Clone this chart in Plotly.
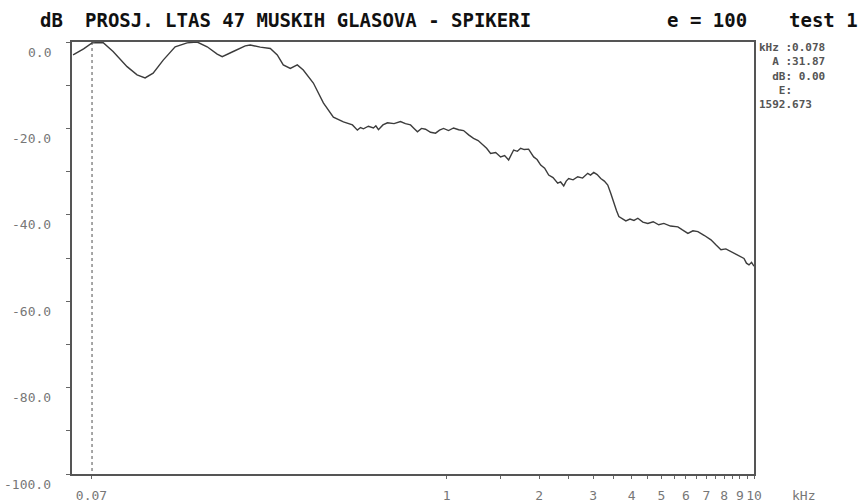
import plotly.graph_objects as go

# ---- data (frequency in kHz, level in dB) ----
freq_khz = [
    0.0610, 0.0660, 0.0703, 0.0763, 0.0823, 0.0914, 0.0985, 0.1046, 0.1111, 0.1198,
    0.1310, 0.1433, 0.1545, 0.1665, 0.1795, 0.1864, 0.2024, 0.2215, 0.2299, 0.2478,
    0.2672, 0.2815, 0.2944, 0.3104, 0.3270, 0.3420, 0.3688, 0.3975, 0.4285, 0.4619,
    0.4943, 0.5129, 0.525, 0.5366, 0.557, 0.5784, 0.589, 0.6005, 0.621, 0.6424,
    0.675, 0.7082, 0.735, 0.7636, 0.784, 0.8043, 0.829, 0.8543, 0.887, 0.9209,
    0.949, 0.9778, 1.015, 1.054, 1.095, 1.136, 1.18, 1.224, 1.267, 1.310,
    1.35, 1.391, 1.445, 1.499, 1.545, 1.592, 1.62, 1.653, 1.70, 1.742,
    1.79, 1.849, 1.88, 1.920, 1.97, 2.024, 2.085, 2.149, 2.22, 2.299,
    2.35, 2.405, 2.45, 2.496, 2.58, 2.671, 2.77, 2.879, 2.94, 3.011,
    3.09, 3.174, 3.26, 3.345, 3.42, 3.499, 3.57, 3.634, 3.73, 3.830,
    3.95, 4.07, 4.190, 4.35, 4.515, 4.70, 4.90, 5.091, 5.35, 5.655,
    5.85, 6.096, 6.33, 6.570, 6.90, 7.244, 7.50, 7.807, 8.10, 8.416,
    8.85, 9.278, 9.45, 9.632, 9.82, 10.0,
]
level_db = [
    -3.0, -1.6, -0.2, -0.1, -2.2, -5.7, -7.6, -8.3, -7.2, -4.2,
    -1.1, -0.2, 0.0, -1.1, -2.8, -3.4, -2.2, -0.9, -0.7, -1.2,
    -1.5, -3.0, -5.3, -6.1, -5.3, -6.5, -9.5, -14.1, -17.4, -18.5,
    -19.2, -20.4, -19.8, -20.1, -19.5, -19.9, -19.4, -20.3, -19.2, -18.7,
    -18.9, -18.4, -18.9, -19.2, -20.0, -20.8, -20.0, -20.2, -20.9, -21.1,
    -20.4, -20.0, -20.5, -19.9, -20.3, -20.5, -21.5, -22.3, -22.8, -23.8,
    -24.6, -25.8, -25.6, -26.6, -26.3, -27.3, -26.2, -25.0, -25.3, -24.6,
    -24.9, -24.8, -25.6, -26.6, -27.2, -28.5, -29.2, -30.8, -31.4, -32.7,
    -32.4, -33.3, -32.2, -31.6, -31.9, -31.2, -31.5, -30.4, -30.8, -30.2,
    -30.7, -31.6, -32.2, -33.1, -35.0, -37.3, -39.0, -40.4, -40.8, -41.4,
    -41.0, -41.3, -40.8, -41.7, -42.0, -41.6, -42.3, -42.0, -42.6, -42.8,
    -43.5, -44.3, -43.7, -43.9, -44.8, -45.8, -46.9, -48.1, -47.9, -48.5,
    -49.4, -50.1, -51.2, -51.6, -51.0, -51.9,
]
cursor_khz = 0.0703

x_tick_vals = [0.07, 1, 2, 3, 4, 5, 6, 7, 8, 9, 10]
x_tick_text = ["0.07", "1", "2", "3", "4", "5", "6", "7", "8", "9", "10"]
x_minor_vals = [1.5, 2.5, 3.5, 4.5, 5.5, 6.5, 7.5, 8.5, 9.5]
y_tick_vals = [0, -10, -20, -30, -40, -50, -60, -70, -80, -90, -100]
y_label_vals = [0, -20, -40, -60, -80, -100]
y_label_text = ["0.0", "-20.0", "-40.0", "-60.0", "-80.0", "-100.0"]

title_unit = "dB"
title_main = "PROSJ. LTAS 47 MUSKIH GLASOVA - SPIKERI"
title_e = "e = 100"
title_test = "test 1"
info_lines = ["kHz :0.078", "  A :31.87", "  dB: 0.00", "   E:", "1592.673"]
x_unit = "kHz"

# ---- layout geometry (pixels) ----
W, H = 864, 504
L, R, T, B = 72, 754, 42, 474
PW, PH = R - L, B - T


def px(xp):
    return (xp - L) / PW


def py(yp):
    return (B - yp) / PH


fig = go.Figure()
fig.add_trace(go.Scatter(
    x=[cursor_khz, cursor_khz], y=[0, -100], mode="lines",
    line=dict(color="#8a8a8a", width=1.5, dash="dot"), hoverinfo="skip",
))
fig.add_trace(go.Scatter(
    x=freq_khz, y=level_db, mode="lines",
    line=dict(color="#3c3c3c", width=1.4), hoverinfo="skip",
))

mono = "DejaVu Sans Mono"
fig.update_layout(
    width=W, height=H,
    margin=dict(l=L, r=W - R, t=T, b=H - B),
    paper_bgcolor="white", plot_bgcolor="white",
    showlegend=False,
    xaxis=dict(
        type="log", range=[-1.2182, 1.0], automargin=False,
        showgrid=False, zeroline=False,
        showline=True, mirror=True, linecolor="#555555", linewidth=2,
        tickmode="array", tickvals=x_tick_vals, ticktext=x_tick_text,
        ticks="outside", ticklen=3, tickcolor="#666666", tickwidth=1,
        tickangle=0, ticklabelstandoff=5,
        tickfont=dict(family=mono, size=13, color="#777777"),
        minor=dict(tickvals=x_minor_vals, ticks="outside", ticklen=3,
                   tickcolor="#666666", tickwidth=1),
    ),
    yaxis=dict(
        range=[-100, 0], automargin=False,
        showgrid=False, zeroline=False,
        showline=True, mirror=True, linecolor="#555555", linewidth=2,
        tickmode="array", tickvals=y_tick_vals,
        ticks="outside", ticklen=4, tickcolor="#666666", tickwidth=1,
        showticklabels=False,
    ),
)

ann = []
for v, t in zip(y_label_vals, y_label_text):
    ann.append(dict(x=0, xref="paper", y=v, yref="y", text=t, showarrow=False,
                    xanchor="right", yanchor="middle", xshift=-19, yshift=-10,
                    font=dict(family=mono, size=13, color="#777777")))

title_font = dict(family=mono, size=19, color="#111111")
for text, xp in [(title_unit, 38), (title_main, 83), (title_e, 665), (title_test, 787)]:
    ann.append(dict(x=px(xp), xref="paper", y=py(20), yref="paper", text="<b>%s</b>" % text,
                    showarrow=False, xanchor="left", yanchor="middle", font=title_font))

# info block (one text, lines padded with non-breaking spaces)
info_text = "<br>".join("<b>%s</b>" % s.replace(" ", "\u00a0") for s in info_lines)
ann.append(dict(x=px(757), xref="paper", y=py(39), yref="paper", text=info_text,
                showarrow=False, xanchor="left", yanchor="top", align="left",
                font=dict(family=mono, size=11, color="#555555")))

ann.append(dict(x=px(790), xref="paper", y=py(496), yref="paper", text=x_unit,
                showarrow=False, xanchor="left", yanchor="middle",
                font=dict(family=mono, size=13, color="#777777")))

fig.update_layout(annotations=ann)
fig.write_html("out.html")
